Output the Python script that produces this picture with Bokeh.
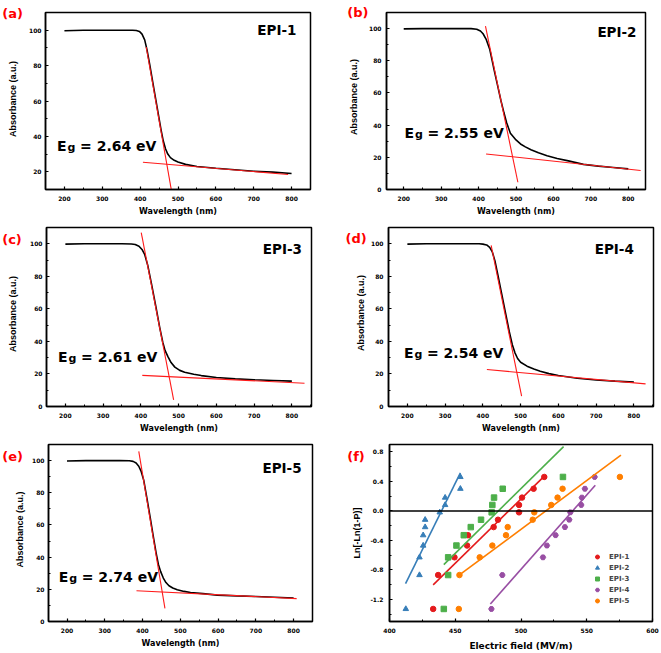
from bokeh.plotting import figure
from bokeh.models import Range1d, Label, FixedTicker, Span, Legend, LegendItem, NumeralTickFormatter
from bokeh.layouts import row, column
from bokeh.embed import file_html
from bokeh.resources import INLINE

# ---------------- data: absorbance spectra ----------------
WL_A = [200, 250, 300, 350, 380, 390, 398, 405, 412, 418, 425, 435, 445, 455, 461, 467, 473, 480, 490, 500, 520, 550, 600, 650, 700, 750, 800]
ABS_A = [99.7, 100, 100, 100, 100, 99.8, 99.3, 97.8, 94.5, 89, 81, 68.5, 56.3, 44, 37.5, 33, 30, 28, 26.5, 25.5, 24.2, 23, 22, 21.2, 20.3, 19.8, 19]
TAN_A_X = [416, 482.4]
TAN_A_Y = [90.5, 9.8]
BASE_A_X = [407.4, 791]
BASE_A_Y = [25.4, 18.5]

WL_B = [200, 250, 300, 350, 380, 395, 405, 412, 420, 430, 440, 450, 460, 468, 475, 485, 500, 512, 525, 540, 560, 583, 610, 640, 680, 720, 760, 800]
ABS_B = [99.8, 100, 100, 100, 100, 99.6, 98.5, 96.8, 93.5, 87, 76, 65.5, 55, 47.5, 41.5, 35, 30.8, 28.3, 26.5, 24.7, 22.8, 21, 19.3, 17.8, 15.6, 14.5, 13.7, 12.8]
TAN_B_X = [418.4, 505]
TAN_B_Y = [101.6, 4.5]
BASE_B_X = [420, 833]
BASE_B_Y = [22.1, 11.8]

WL_C = [200, 250, 300, 350, 375, 385, 395, 403, 410, 418, 428, 440, 450, 458, 464, 472, 480, 490, 503, 516, 540, 560, 600, 650, 700, 750, 800]
ABS_C = [99.8, 100, 100, 100, 99.9, 99.5, 98.5, 96.5, 93.5, 87, 75.5, 61, 48.5, 39.5, 34.5, 30.5, 27, 24.2, 22.2, 21.1, 19.8, 19, 17.8, 17, 16.4, 16, 15.6]
TAN_C_X = [401, 486.8]
TAN_C_Y = [106.8, 4.1]
BASE_C_X = [403.8, 833.5]
BASE_C_Y = [19.1, 14.3]

WL_D = [200, 250, 300, 350, 390, 400, 410, 418, 425, 432, 440, 450, 460, 470, 478, 485, 492, 500, 517, 535, 552, 575, 600, 650, 700, 750, 800]
ABS_D = [99.8, 100, 100, 100, 100, 99.8, 99.3, 97.8, 95, 89.5, 80.5, 69, 57.5, 46, 38, 33, 29.5, 27.2, 24.8, 23, 21.7, 20.2, 19, 17.4, 16.3, 15.6, 15]
TAN_D_X = [422, 502.6]
TAN_D_Y = [99, 6.4]
BASE_D_X = [410.6, 831]
BASE_D_Y = [22.7, 13.9]

WL_E = [200, 250, 300, 340, 365, 375, 383, 390, 396, 403, 412, 420, 428, 436, 442, 448, 455, 462, 470, 480, 492, 510, 527, 560, 598, 650, 700, 750, 800]
ABS_E = [99.7, 100, 100, 100, 99.9, 99.5, 98.5, 96.5, 93.5, 88, 76, 65, 53.5, 42.5, 35.5, 31, 27, 24.2, 22.2, 20.8, 19.7, 18.7, 18, 17.3, 16.4, 15.9, 15.5, 15.1, 14.6]
TAN_E_X = [390, 459.3]
TAN_E_Y = [105.7, 8.2]
BASE_E_X = [384, 808]
BASE_E_Y = [19.1, 14.2]

SAMPLES = ["EPI-1", "EPI-2", "EPI-3", "EPI-4", "EPI-5"]
EG_TEXT = ["2.64", "2.55", "2.61", "2.54", "2.74"]
PANEL_TAGS = ["(a)", "(b)", "(c)", "(d)", "(e)", "(f)"]
Y_LABEL = "Absorbance (a.u.)"
X_LABEL = "Wavelength (nm)"

# ---------------- data: Weibull plot ----------------
WEIBULL_Y = [-1.33, -0.87, -0.63, -0.47, -0.33, -0.22, -0.12, -0.02, 0.08, 0.18, 0.30, 0.46]
FIELD_1 = [433.2, 437, 449.4, 459, 459.7, 479.2, 482.5, 498.5, 498.5, 500.8, 509.6, 517.7]
FIELD_2 = [412.4, 422.8, 422.8, 425.6, 425.6, 427.1, 427.1, 438.2, 442.3, 442.3, 453.9, 453.9]
FIELD_3 = [441.3, 444.6, 444.6, 450.9, 456.5, 461.8, 469.6, 477.7, 478.2, 479.5, 486.1, 531.9]
FIELD_4 = [477.5, 485.8, 516.7, 519.7, 526.3, 533.4, 536.7, 537.5, 545.8, 546.3, 548.6, 556]
FIELD_5 = [452.7, 453.2, 468.6, 478.2, 488.6, 489.9, 508.9, 510.1, 523, 527.8, 531.6, 575.2]
FIT_1_X = [433.2, 516.2]
FIT_1_Y = [-1.004, 0.444]
FIT_2_X = [412.2, 453.9]
FIT_2_Y = [-0.987, 0.516]
FIT_3_X = [441.3, 532.4]
FIT_3_Y = [-0.729, 0.871]
FIT_4_X = [476.7, 556.5]
FIT_4_Y = [-1.262, 0.347]
FIT_5_X = [452.7, 576]
FIT_5_Y = [-0.876, 0.756]

SERIES_COLORS = ["#e41a1c", "#377eb8", "#4daf4a", "#984ea3", "#ff7f00"]
SERIES_MARKERS = ["circle", "triangle", "square", "hex", "circle"]

FONT = "DejaVu Sans"
VFONT = "Liberation Sans"


def style(p, xt, xm, yt, ym, xlabel, ylabel, xlab_size="8px", ylab_size="9px",
          ylab_standoff=10, ytick_standoff=4, xtick_standoff=6, xlab_standoff=3):
    p.xgrid.visible = False
    p.ygrid.visible = False
    p.outline_line_color = "black"
    p.outline_line_width = 1.5
    p.outline_line_alpha = 1.0
    p.xaxis.ticker = FixedTicker(ticks=xt, minor_ticks=xm)
    p.yaxis.ticker = FixedTicker(ticks=yt, minor_ticks=ym)
    for ax in (p.xaxis[0], p.yaxis[0]):
        ax.axis_line_width = 1.5
        ax.axis_line_color = "black"
        ax.major_tick_in = 3
        ax.major_tick_out = 0
        ax.minor_tick_in = 2
        ax.minor_tick_out = 0
        ax.major_tick_line_width = 1.2
        ax.minor_tick_line_width = 1
        ax.major_tick_line_color = "black"
        ax.minor_tick_line_color = "black"
        ax.major_label_text_font = FONT
        ax.major_label_text_font_style = "bold"
        ax.major_label_text_font_size = "6px"
        ax.major_label_text_color = "black"
        ax.axis_label_text_font_style = "bold"
        ax.axis_label_text_color = "black"
    p.xaxis.axis_label = xlabel
    p.xaxis.axis_label_text_font = FONT
    p.xaxis.axis_label_text_font_size = xlab_size
    p.xaxis.major_label_standoff = xtick_standoff
    p.xaxis.axis_label_standoff = xlab_standoff
    p.yaxis.major_label_standoff = ytick_standoff
    if ylabel:
        p.yaxis.axis_label = ylabel
        p.yaxis.axis_label_text_font = VFONT
        p.yaxis.axis_label_text_font_size = ylab_size
        p.yaxis.axis_label_standoff = ylab_standoff


def panel_tag(p, tag, cx, cy, side="left"):
    # placed in a side panel so that it is not clipped to the frame; canvas units (top-down)
    p.add_layout(Label(x=cx, y=cy, x_units="canvas", y_units="canvas",
                       text=tag, text_font=FONT, text_font_style="bold",
                       text_font_size="13px", text_color="#ff0000",
                       text_baseline="alphabetic", text_align="left"), side)


def y_title(p, text, cx, cy, side):
    p.add_layout(Label(x=cx, y=cy, x_units="canvas", y_units="canvas", text=text,
                       angle=90, angle_units="deg", text_align="center", text_baseline="middle",
                       text_font=VFONT, text_font_style="bold", text_font_size="9px",
                       text_color="black"), side)


def abs_panel(w, h, bl, br, bt, bb, xr, yr, wl, ab, tx, ty, bx, by,
              sample, eg, eg_xy, sample_xy, tag, tag_xy, ylab_xy, ylab_side, ytick_standoff):
    p = figure(width=w, height=h, output_backend="svg", toolbar_location=None,
               x_range=Range1d(*xr), y_range=Range1d(*yr),
               min_border_left=bl, min_border_right=br, min_border_top=bt, min_border_bottom=bb,
               background_fill_color="white", border_fill_color="white")
    yt = [v for v in [0, 20, 40, 60, 80, 100] if v >= yr[0]]
    style(p, [200, 300, 400, 500, 600, 700, 800], [150, 250, 350, 450, 550, 650, 750, 850],
          yt, [10, 30, 50, 70, 90, 110], X_LABEL, None, ytick_standoff=ytick_standoff)
    p.line(wl, ab, line_color="black", line_width=1.6)
    p.line(tx, ty, line_color="#ff1a1a", line_width=1.1)
    p.line(bx, by, line_color="#ff1a1a", line_width=1.1)
    ex, ey = eg_xy
    p.add_layout(Label(x=ex, y=ey, text="E", text_font=FONT, text_font_style="bold",
                       text_font_size="14px", text_baseline="alphabetic", text_color="black"))
    p.add_layout(Label(x=ex, y=ey, x_offset=10.5, y_offset=-1.5, text="g", text_font=FONT,
                       text_font_style="bold", text_font_size="11px",
                       text_baseline="alphabetic", text_color="black"))
    p.add_layout(Label(x=ex, y=ey, x_offset=23, text="= " + eg + " eV", text_font=FONT,
                       text_font_style="bold", text_font_size="14px",
                       text_baseline="alphabetic", text_color="black"))
    sx, sy = sample_xy
    p.add_layout(Label(x=sx, y=sy, text=sample, text_font=FONT, text_font_style="bold",
                       text_font_size="13.5px", text_baseline="alphabetic", text_align="right",
                       text_color="black"))
    panel_tag(p, tag, *tag_xy)
    y_title(p, Y_LABEL, ylab_xy[0], ylab_xy[1], ylab_side)
    return p


pa = abs_panel(330, 218, 45, 20, 12, 26, (150, 850), (10, 110), WL_A, ABS_A, TAN_A_X, TAN_A_Y,
               BASE_A_X, BASE_A_Y, SAMPLES[0], EG_TEXT[0], (180.6, 34.3), (813, 100),
               PANEL_TAGS[0], (1.7, 13.3), (12.5, 98.5), "right", 4)
pb = abs_panel(331, 218, 56, 16, 12, 29, (154, 846), (0, 110), WL_B, ABS_B, TAN_B_X, TAN_B_Y,
               BASE_B_X, BASE_B_Y, SAMPLES[1], EG_TEXT[1], (201.8, 34.9), (822, 98.1),
               PANEL_TAGS[1], (16.7, 12.3), (23, 96.5), "left", 5)
pc = abs_panel(330, 217, 46, 19, 9, 28, (150, 852), (0, 110), WL_C, ABS_C, TAN_C_X, TAN_C_Y,
               BASE_C_X, BASE_C_Y, SAMPLES[2], EG_TEXT[2], (180.6, 30.3), (826.6, 96.9),
               PANEL_TAGS[2], (1.7, 21), (12.5, 95.5), "right", 4)
pd = abs_panel(331, 217, 58, 8, 8, 29, (150, 852), (0, 110), WL_D, ABS_D, TAN_D_X, TAN_D_Y,
               BASE_D_X, BASE_D_Y, SAMPLES[3], EG_TEXT[3], (191, 33), (800, 96.5),
               PANEL_TAGS[3], (15, 20.3), (30, 94.5), "left", 5)
pe = abs_panel(330, 218, 48, 18, 9, 29, (151, 850), (0, 110), WL_E, ABS_E, TAN_E_X, TAN_E_Y,
               BASE_E_X, BASE_E_Y, SAMPLES[4], EG_TEXT[4], (177.9, 27.9), (821, 95.7),
               PANEL_TAGS[4], (1.7, 21), (19.5, 94), "right", 4)

# ---------------- panel (f) ----------------
pf = figure(width=331, height=218, output_backend="svg", toolbar_location=None,
            x_range=Range1d(400, 600), y_range=Range1d(-1.5, 0.9),
            min_border_left=59, min_border_right=9, min_border_top=7, min_border_bottom=31,
            background_fill_color="white", border_fill_color="white")
style(pf, [400, 450, 500, 550, 600], [425, 475, 525, 575],
      [-1.2, -0.8, -0.4, 0.0, 0.4, 0.8], [-1.4, -1.0, -0.6, -0.2, 0.2, 0.6],
      "Electric field (MV/m)", "Ln[-Ln(1-P)]", xlab_size="9px", ylab_size="9px",
      ylab_standoff=5, ytick_standoff=6, xtick_standoff=6, xlab_standoff=5)
pf.yaxis.formatter = NumeralTickFormatter(format="0.0")
pf.add_layout(Span(location=0, dimension="width", line_color="black", line_width=1.5))

fields = [FIELD_1, FIELD_2, FIELD_3, FIELD_4, FIELD_5]
fits = [(FIT_1_X, FIT_1_Y), (FIT_2_X, FIT_2_Y), (FIT_3_X, FIT_3_Y), (FIT_4_X, FIT_4_Y), (FIT_5_X, FIT_5_Y)]
items = []
for i in range(5):
    r = pf.scatter(fields[i], WEIBULL_Y, marker=SERIES_MARKERS[i], size=5.5,
                   fill_color=SERIES_COLORS[i], line_color=SERIES_COLORS[i])
    pf.line(fits[i][0], fits[i][1], line_color=SERIES_COLORS[i], line_width=1.6)
    items.append(LegendItem(label=SAMPLES[i], renderers=[r]))

leg = Legend(items=items, location=(203, 15), border_line_color=None, background_fill_alpha=0,
             label_text_font=FONT, label_text_font_style="bold", label_text_font_size="7px",
             glyph_width=10, glyph_height=11, label_height=11, spacing=0, padding=0, margin=0,
             label_standoff=7)
pf.add_layout(leg)
panel_tag(pf, PANEL_TAGS[5], 16.7, 21)

layout = column(row(pa, pb), row(pc, pd), row(pe, pf))
open("out.html", "w").write(file_html(layout, INLINE))
